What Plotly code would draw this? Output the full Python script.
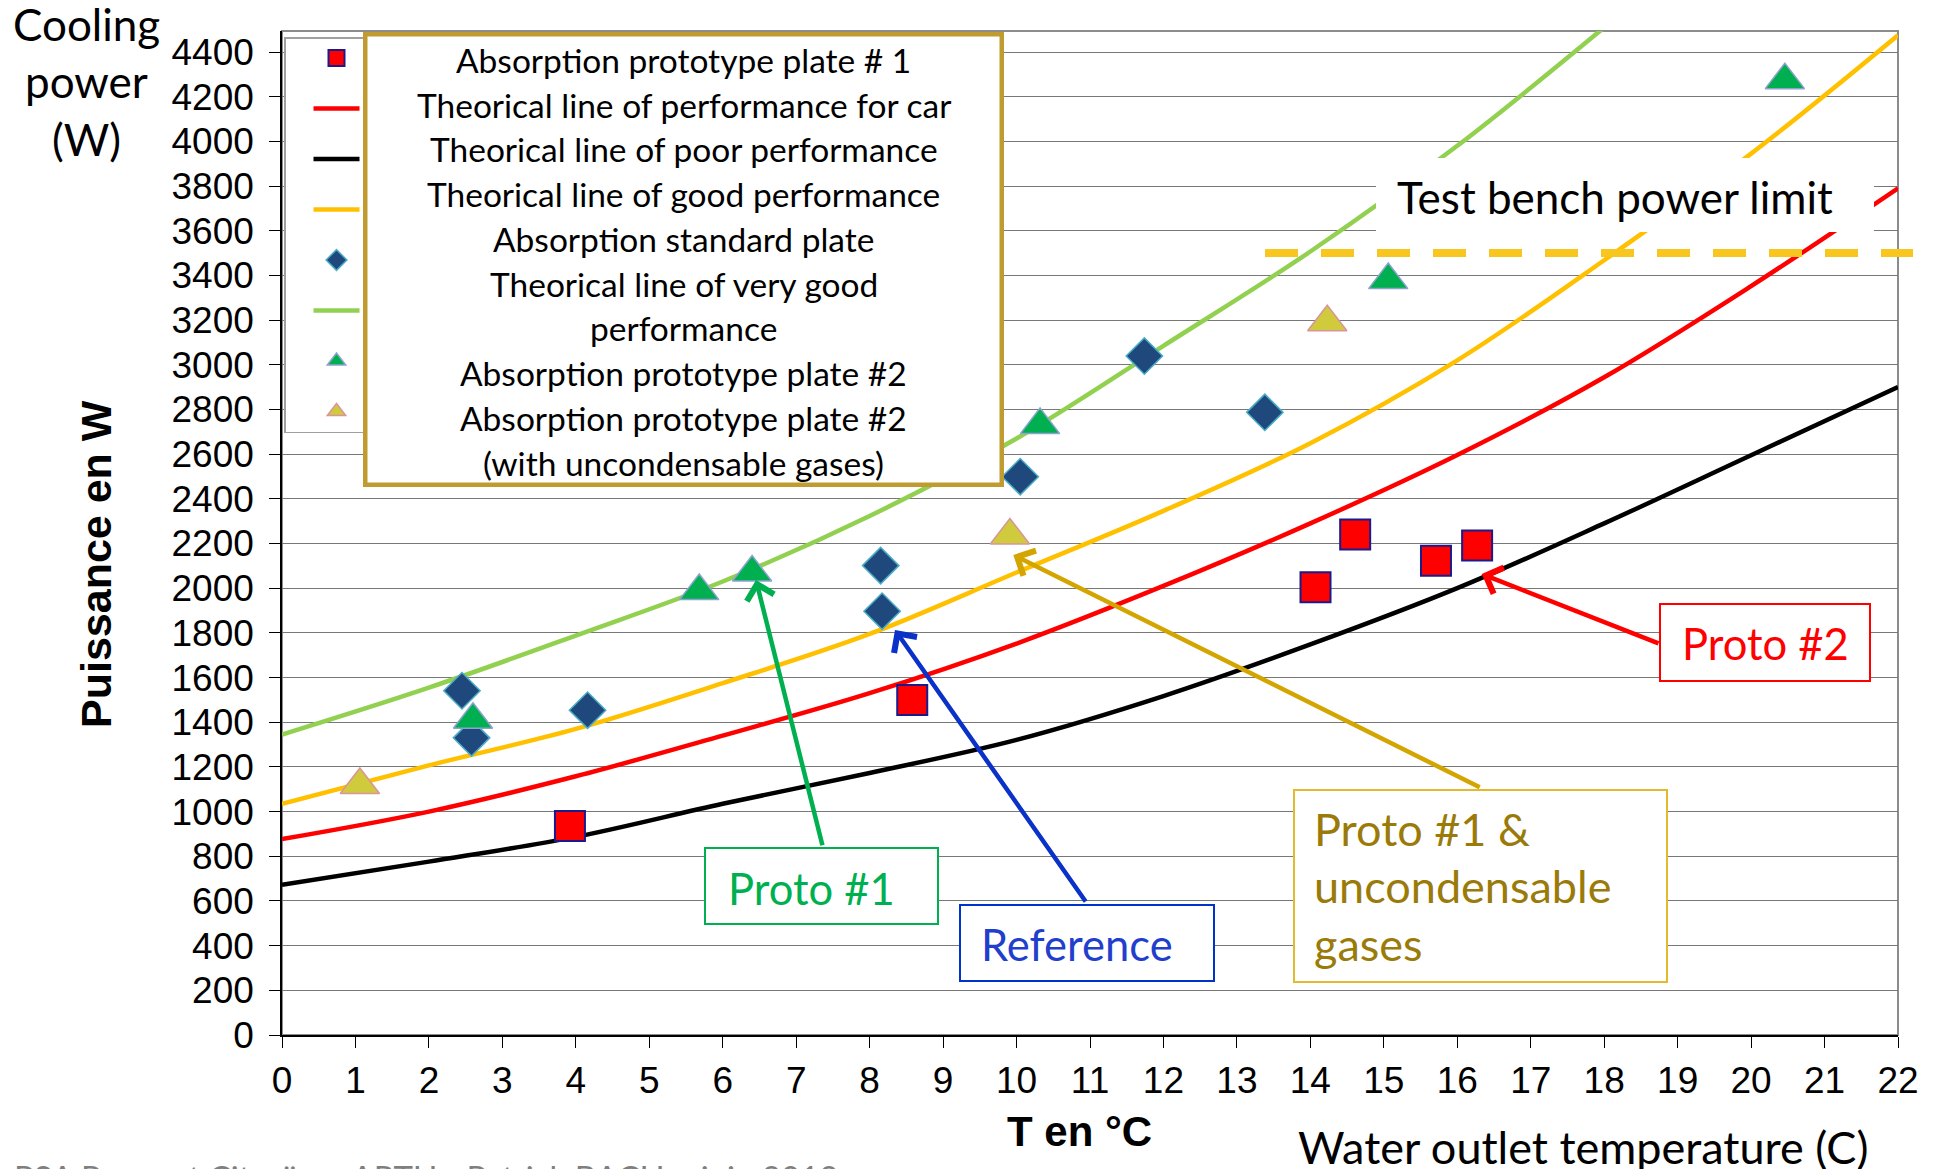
import plotly.graph_objects as go

# ---------------- data ----------------
# Theoretical performance curves (cooling power in W vs water outlet temperature in °C)
T_CURVE = [0, 2, 4, 6, 8, 10, 12, 14, 16, 18, 20, 22]
W_POOR = [672, 776, 887, 1035, 1173, 1321, 1517, 1748, 2000, 2290, 2595, 2900]
W_CAR = [877, 1000, 1158, 1340, 1530, 1752, 2010, 2290, 2596, 2944, 3352, 3790]
W_GOOD = [1035, 1207, 1370, 1575, 1795, 2070, 2346, 2649, 3020, 3468, 3945, 4475]
T_VERY_GOOD = [0, 2, 4, 6, 8, 10, 12, 14, 16, 18]
W_VERY_GOOD = [1345, 1555, 1788, 2030, 2323, 2670, 3085, 3507, 3980, 4510]

# Measured points
T_PROTO1 = [3.92, 8.58, 14.07, 14.61, 15.71, 16.27]
W_PROTO1 = [935, 1500, 2004, 2240, 2123, 2191]
T_STD = [2.45, 2.58, 4.16, 8.15, 8.17, 10.05, 11.74, 13.38]
W_STD = [1541, 1330, 1454, 2101, 1897, 2499, 3039, 2787]
T_PROTO2 = [2.60, 5.68, 6.40, 10.32, 15.06, 20.46]
W_PROTO2 = [1411, 1987, 2070, 2730, 3379, 4274]
T_PROTO2_GAS = [1.06, 9.91, 14.23]
W_PROTO2_GAS = [1119, 2236, 3190]

BENCH_LIMIT_W = 3500

X_TICKS = list(range(0, 23))
Y_TICKS = list(range(0, 4401, 200))
X_RANGE = [0, 22]
Y_RANGE = [0, 4494]

LEGEND_NAMES = [
    "Absorption prototype plate # 1",
    "Theorical line of performance for car",
    "Theorical line of poor performance",
    "Theorical line of good performance",
    "Absorption standard plate",
    "Theorical line of very good performance",
    "Absorption prototype plate #2",
    "Absorption prototype plate #2 (with uncondensable gases)",
]
LEGEND_BOX_LINES = [
    "Absorption prototype plate # 1",
    "Theorical line of performance for car",
    "Theorical line of poor performance",
    "Theorical line of good performance",
    "Absorption standard plate",
    "Theorical line of very good",
    "performance",
    "Absorption prototype plate #2",
    "Absorption prototype plate #2",
    "(with uncondensable gases)",
]

# ---------------- geometry helpers ----------------
FIG_W, FIG_H = 1937, 1169
M_L, M_R, M_T, M_B = 282, 39, 31, 134
PLOT_W = FIG_W - M_L - M_R
PLOT_H = FIG_H - M_T - M_B


def px(x):
    """page pixel x -> paper coordinate"""
    return (x - M_L) / PLOT_W


def py(y):
    """page pixel y -> paper coordinate"""
    return (FIG_H - M_B - y) / PLOT_H


def tx(x):
    """page pixel x -> data temperature"""
    return X_RANGE[0] + (x - M_L) / PLOT_W * (X_RANGE[1] - X_RANGE[0])


def wy(y):
    """page pixel y -> data power"""
    return Y_RANGE[0] + (FIG_H - M_B - y) / PLOT_H * (Y_RANGE[1] - Y_RANGE[0])


LATO = "Lato, Carlito, 'Open Sans', sans-serif"
ARIAL = "'Liberation Sans', Arial, sans-serif"

fig = go.Figure()

# ---------------- curves ----------------
curve_specs = [
    (T_CURVE, W_CAR, "#FF0000", LEGEND_NAMES[1], 2),
    (T_CURVE, W_POOR, "#000000", LEGEND_NAMES[2], 3),
    (T_CURVE, W_GOOD, "#FFC000", LEGEND_NAMES[3], 4),
    (T_VERY_GOOD, W_VERY_GOOD, "#92D050", LEGEND_NAMES[5], 6),
]
for xs, ys, col, name, rank in curve_specs:
    fig.add_trace(go.Scatter(
        x=xs, y=ys, mode="lines", name=name, legendrank=rank, legendgroup=name,
        line=dict(color=col, width=4.5, shape="spline", smoothing=1.0),
        hoverinfo="skip",
    ))

# ---------------- measured points ----------------
marker_specs = [
    (T_PROTO1, W_PROTO1, LEGEND_NAMES[0], 1,
     dict(symbol="square", size=30, color="#FF0000", line=dict(color="#1A1A8C", width=2))),
    (T_STD, W_STD, LEGEND_NAMES[4], 5,
     dict(symbol="diamond", size=28, color="#1F497D", line=dict(color="#4BACC6", width=1.5))),
    (T_PROTO2, W_PROTO2, LEGEND_NAMES[6], 7,
     dict(symbol="triangle-up", size=34, color="#00B050", line=dict(color="#8EA2D0", width=1.5))),
    (T_PROTO2_GAS, W_PROTO2_GAS, LEGEND_NAMES[7], 8,
     dict(symbol="triangle-up", size=34, color="#CFCB3C", line=dict(color="#D9959B", width=1.5))),
]
for xs, ys, name, rank, mk in marker_specs:
    fig.add_trace(go.Scatter(
        x=xs, y=ys, mode="markers", name=name, legendrank=rank, legendgroup=name,
        marker=mk, hoverinfo="skip",
    ))

# ---------------- annotations ----------------
annotations = []


def framed_box(x0, y0, x1, y1, border_color, border_w, fill="white"):
    annotations.append(dict(
        xref="paper", yref="paper", x=px(x0), y=py(y0), xanchor="left", yanchor="top",
        text=" ", showarrow=False,
        width=(x1 - x0) - 2 * border_w, height=(y1 - y0) - 2 * border_w,
        bgcolor=fill, bordercolor=border_color if border_w > 0 else "rgba(0,0,0,0)",
        borderwidth=border_w, borderpad=0,
    ))


def text_lines(lines, x, y_first, step, size, color, anchor="center", family=LATO,
               bold=False):
    for i, line in enumerate(lines):
        annotations.append(dict(
            xref="paper", yref="paper", x=px(x), y=py(y_first + i * step),
            xanchor=anchor, yanchor="middle", showarrow=False,
            text=f"<b>{line}</b>" if bold else line,
            font=dict(family=family, size=size, color=color),
        ))


def arrow(head, tail, color):
    annotations.append(dict(
        xref="x", yref="y", axref="x", ayref="y",
        x=tx(head[0]), y=wy(head[1]), ax=tx(tail[0]), ay=wy(tail[1]),
        text="", showarrow=True, arrowhead=4, arrowsize=1.2, arrowwidth=4.5,
        arrowcolor=color, standoff=0, startstandoff=0,
    ))


# legend label panel laid over the series keys
framed_box(363, 32, 1004, 487, "#BF9B30", 4.5)
text_lines(LEGEND_BOX_LINES, 683.5, 59.7, 44.8, 33.5, "#000000")

# bench limit label
framed_box(1376, 158, 1874, 232, "white", 0)
text_lines(["Test bench power limit"], 1395, 197.5, 0, 44, "#000000", anchor="left")

# callouts
framed_box(704, 847, 939.4, 925.3, "#00B050", 2)
text_lines(["Proto #1"], 726, 887.8, 0, 43.5, "#00B050", anchor="left")

framed_box(958.6, 904.3, 1214.3, 982.1, "#0033CC", 2)
text_lines(["Reference"], 979, 944, 0, 43.5, "#1F3FCC", anchor="left")

framed_box(1292.9, 789.2, 1668.3, 983.4, "#E3BA2E", 2)
text_lines(["Proto #1 &", "uncondensable", "gases"], 1312, 828.5, 57.8, 45,
           "#9A7B0A", anchor="left")

framed_box(1659.3, 603.2, 1871.5, 682.2, "#FF0000", 2)
text_lines(["Proto #2"], 1680, 643, 0, 43.5, "#FF0000", anchor="left")

arrow((756, 580), (822.8, 846.8), "#00B050")
arrow((895, 630), (1086.7, 903), "#0A32C8")
arrow((1013.3, 555), (1481.2, 788), "#D4A500")
arrow((1481.7, 574), (1660, 644), "#FF0000")

# axis titles and side labels
text_lines(["Cooling", "power", "(W)"], 86, 24, 57.5, 44, "#000000")
text_lines(["T en °C"], 1079, 1131, 0, 42, "#000000", family=ARIAL, bold=True)
text_lines(["Water outlet temperature (C)"], 1583, 1147, 0, 45, "#000000")
annotations.append(dict(
    xref="paper", yref="paper", x=px(96), y=py(564), xanchor="center", yanchor="middle",
    text="<b>Puissance en W</b>", textangle=-90, showarrow=False,
    font=dict(family=ARIAL, size=43, color="#000000"),
))
text_lines(["PSA Peugeot Citroën – ARTU - Patrick BACH – juin 2012"], 12, 1177, 0, 33,
           "#7F7F7F", anchor="left")

# ---------------- shapes ----------------
shapes = [
    # plot-area frame
    dict(type="rect", xref="paper", yref="paper", x0=0, x1=1, y0=0, y1=1,
         line=dict(color="#8C8C8C", width=2), fillcolor="rgba(0,0,0,0)", layer="below"),
    # test bench power limit
    dict(type="line", xref="paper", yref="y", x0=px(1265), x1=px(1913),
         y0=BENCH_LIMIT_W, y1=BENCH_LIMIT_W,
         line=dict(color="#F8C71F", width=8, dash="33px,23px"), layer="above"),
]

fig.update_layout(
    width=FIG_W, height=FIG_H, autosize=False,
    margin=dict(l=M_L, r=M_R, t=M_T, b=M_B, pad=0),
    paper_bgcolor="white", plot_bgcolor="white",
    font=dict(family=LATO, color="#000000"),
    showlegend=True,
    legend=dict(
        x=px(284), y=py(37), xanchor="left", yanchor="top",
        bgcolor="white", bordercolor="#A0A0A0", borderwidth=1.5,
        font=dict(family=LATO, size=20, color="#000000"),
        tracegroupgap=21.5, itemwidth=46, indentation=23,
        traceorder="grouped",
    ),
    xaxis=dict(
        range=X_RANGE, tickmode="array", tickvals=X_TICKS, ticktext=[str(v) for v in X_TICKS],
        showgrid=False, zeroline=False, showline=True, linecolor="#000000", linewidth=1.5,
        ticks="outside", ticklen=11, tickwidth=1, tickcolor="#000000",
        tickfont=dict(family=ARIAL, size=37, color="#000000"), ticklabelstandoff=1,
    ),
    yaxis=dict(
        range=Y_RANGE, tickmode="array", tickvals=Y_TICKS, ticktext=[str(v) for v in Y_TICKS],
        showgrid=True, gridcolor="#787878", gridwidth=1, zeroline=False,
        showline=True, linecolor="#000000", linewidth=1.5,
        ticks="outside", ticklen=11, tickwidth=1, tickcolor="#000000",
        tickfont=dict(family=ARIAL, size=37, color="#000000"), ticklabelstandoff=8,
    ),
    annotations=annotations,
    shapes=shapes,
)

fig.write_html("out.html")
